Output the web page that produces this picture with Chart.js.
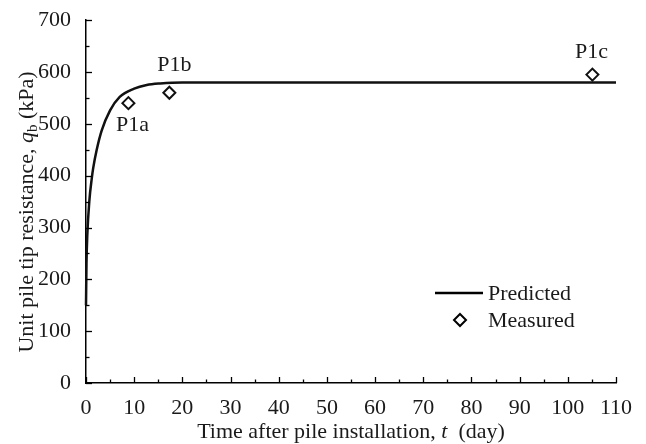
<!DOCTYPE html>
<html>
<head>
<meta charset="utf-8">
<script src="https://cdn.jsdelivr.net/npm/chart.js@4.4.1/dist/chart.umd.min.js"></script>
<style>
  html, body { margin: 0; padding: 0; background: #fff; }
  #wrap { width: 646px; height: 444px; }
</style>
</head>
<body>
<div id="wrap"><canvas id="chartCanvas" width="646" height="444"></canvas></div>
<script>
"use strict";

// predicted curve
const predT = [0, 0.1, 0.27, 0.7, 1.2, 1.5, 2.2, 3.25, 5, 7, 10, 12.6, 15.4, 20, 30, 110];
const predQ = [150, 230, 285, 352, 395, 415, 449, 487, 526, 552, 568, 575, 578, 580, 580, 580];

// measured points
const measNames = ['P1a', 'P1b', 'P1c'];
const measT = [8.8, 17.3, 105.1];
const measQ = [540, 560, 595];

const xTicks = [0, 10, 20, 30, 40, 50, 60, 70, 80, 90, 100, 110];
const yTicks = [0, 100, 200, 300, 400, 500, 600, 700];

const FONT = '"Liberation Serif", "DejaVu Serif", serif';
const INK = '#1a1a1a';
const FS = 22;

function richText(ctx, parts, cx, cy) {
    let total = 0;
    parts.forEach(p => { ctx.font = p.font; total += ctx.measureText(p.text).width; });
    let x = cx - total / 2;
    parts.forEach(p => {
        ctx.font = p.font;
        ctx.fillText(p.text, x, cy + (p.dy || 0));
        x += ctx.measureText(p.text).width;
    });
}

const decor = {
    id: 'decor',
    afterDraw(chart) {
        const ctx = chart.ctx;
        const xs = chart.scales.x, ys = chart.scales.y;
        const area = chart.chartArea;
        ctx.save();
        ctx.strokeStyle = '#000';
        ctx.lineWidth = 1.3;
        // inner ticks
        for (let v = 0; v <= 110; v += 5) {
            const px = Math.round(xs.getPixelForValue(v)) + 0.5;
            const len = v % 10 === 0 ? 6 : 3.5;
            ctx.beginPath();
            ctx.moveTo(px, area.bottom);
            ctx.lineTo(px, area.bottom - len);
            ctx.stroke();
        }
        for (let v = 0; v <= 700; v += 50) {
            const py = Math.round(ys.getPixelForValue(v)) + 0.5;
            const len = v % 100 === 0 ? 6 : 3.5;
            ctx.beginPath();
            ctx.moveTo(area.left, py);
            ctx.lineTo(area.left + len, py);
            ctx.stroke();
        }

        ctx.fillStyle = INK;
        ctx.textBaseline = 'middle';
        ctx.textAlign = 'left';

        // axis titles
        const reg = FS + 'px ' + FONT, ital = 'italic ' + FS + 'px ' + FONT, sub = '15px ' + FONT;
        richText(ctx, [
            { text: 'Time after pile installation, ', font: reg },
            { text: 't', font: ital },
            { text: '  (day)', font: reg }
        ], (area.left + area.right) / 2, 432);

        ctx.save();
        ctx.translate(27, 212);
        ctx.rotate(-Math.PI / 2);
        richText(ctx, [
            { text: 'Unit pile tip resistance, ', font: reg },
            { text: 'q', font: ital },
            { text: 'b', font: sub, dy: 6 },
            { text: ' (kPa)', font: reg }
        ], 0, 0);
        ctx.restore();

        // point names
        const offs = [[4, 22], [5, -28], [-1, -22]];
        ctx.font = reg;
        ctx.textAlign = 'center';
        measNames.forEach((n, i) => {
            const px = xs.getPixelForValue(measT[i]);
            const py = ys.getPixelForValue(measQ[i]);
            ctx.fillText(n, px + offs[i][0], py + offs[i][1]);
        });

        // legend
        ctx.textAlign = 'left';
        ctx.lineWidth = 2.5;
        ctx.beginPath();
        ctx.moveTo(435, 293);
        ctx.lineTo(483, 293);
        ctx.stroke();
        ctx.fillText('Predicted', 488, 294);
        ctx.lineWidth = 2;
        ctx.fillStyle = '#fff';
        ctx.beginPath();
        ctx.moveTo(460, 314);
        ctx.lineTo(466, 320);
        ctx.lineTo(460, 326);
        ctx.lineTo(454, 320);
        ctx.closePath();
        ctx.fill();
        ctx.stroke();
        ctx.fillStyle = INK;
        ctx.fillText('Measured', 488, 321);
        ctx.restore();
    }
};

const data = {
    datasets: [{
        label: 'Predicted',
        data: predT.map((t, i) => ({ x: t, y: predQ[i] })),
        showLine: true,
        borderColor: '#111',
        borderWidth: 2.5,
        pointRadius: 0,
        cubicInterpolationMode: 'monotone',
        clip: false
    }, {
        label: 'Measured',
        data: measT.map((t, i) => ({ x: t, y: measQ[i] })),
        showLine: false,
        pointStyle: 'rectRot',
        pointRadius: 6,
        borderWidth: 2,
        borderColor: '#111',
        backgroundColor: '#fff'
    }]
};

const config = {
    type: 'scatter',
    data: data,
    options: {
        responsive: false,
        animation: false,
        layout: { padding: { top: 20, right: 30, left: 0, bottom: 0 } },
        plugins: { legend: { display: false }, tooltip: { enabled: false } },
        scales: {
            x: {
                type: 'linear',
                min: 0, max: 110,
                afterBuildTicks: s => { s.ticks = xTicks.map(v => ({ value: v })); },
                afterFit: s => { s.height = 61; },
                grid: { display: false },
                border: { display: true, color: '#000', width: 1.5 },
                ticks: { font: { family: FONT, size: FS }, color: INK, padding: 4, maxRotation: 0 }
            },
            y: {
                type: 'linear',
                min: 0, max: 700,
                afterBuildTicks: s => { s.ticks = yTicks.map(v => ({ value: v })); },
                afterFit: s => { s.width = 86; },
                grid: { display: false },
                border: { display: true, color: '#000', width: 1.5 },
                ticks: { font: { family: FONT, size: FS }, color: INK, padding: 7 }
            }
        }
    },
    plugins: [decor]
};

new Chart(document.getElementById('chartCanvas'), config);
</script>
</body>
</html>
